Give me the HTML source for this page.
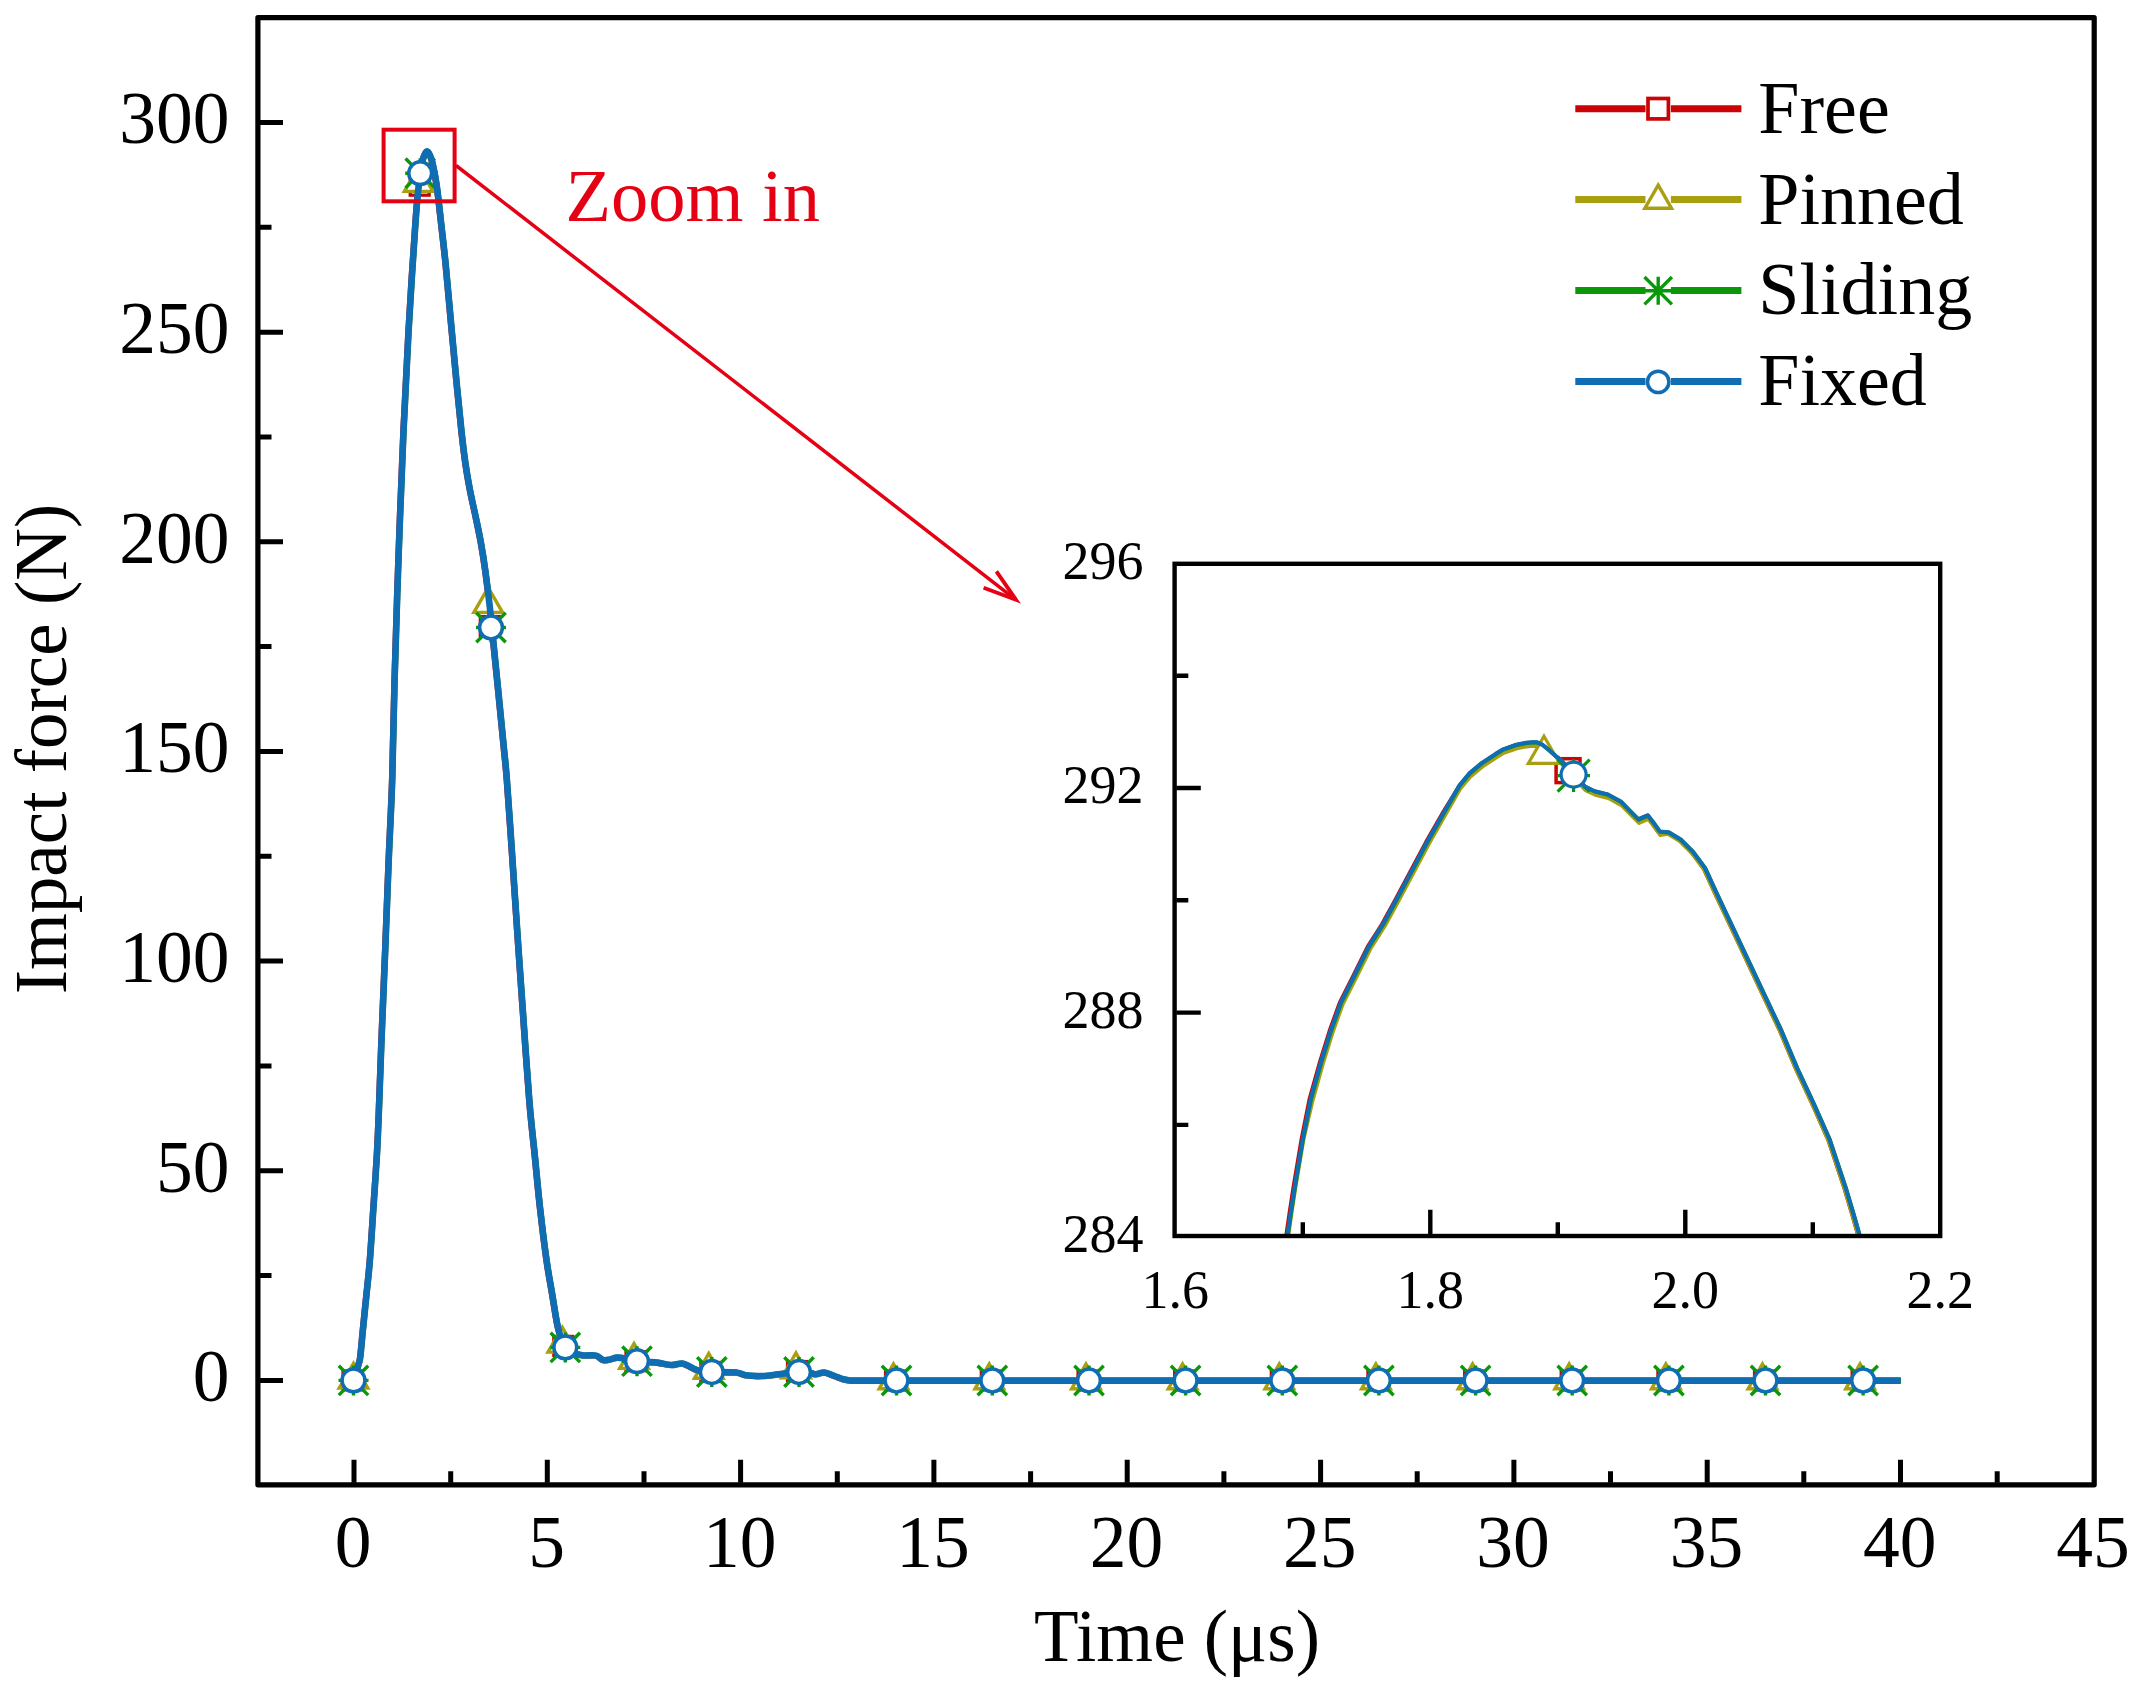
<!DOCTYPE html>
<html lang="en"><head><meta charset="utf-8"><title>Impact force vs time</title>
<style>html,body{margin:0;padding:0;background:#fff}body{width:2139px;height:1691px;overflow:hidden}svg{display:block}text{font-family:"Liberation Serif", serif;fill:#000}</style></head><body>
<svg width="2139" height="1691" viewBox="0 0 2139 1691">
<rect x="0" y="0" width="2139" height="1691" fill="#fff"/>
<path d="M353.0 1380.6C353.5 1379.2 355.1 1374.6 355.9 1371.9C356.7 1369.2 357.4 1366.8 358.0 1364.4C358.6 1362.1 358.9 1363.3 359.6 1357.8C360.3 1352.3 361.2 1341.6 362.2 1331.2C363.2 1320.8 364.6 1307.5 365.8 1295.7C367.0 1283.9 368.1 1275.0 369.3 1260.2C370.5 1245.4 371.7 1224.7 372.9 1206.9C374.1 1189.2 375.4 1171.5 376.4 1153.7C377.4 1136.0 378.0 1118.5 378.7 1100.4C379.4 1082.4 379.7 1071.1 380.7 1045.4C381.7 1019.7 383.6 976.4 384.8 946.0C386.0 915.6 386.9 890.8 388.0 863.2C389.1 835.6 390.6 810.9 391.6 780.4C392.6 749.9 392.9 717.5 394.0 680.1C395.1 642.7 396.5 597.3 398.0 555.9C399.5 514.5 401.2 469.0 402.9 431.7C404.5 394.4 406.4 359.9 407.9 332.3C409.4 304.7 410.6 286.7 412.0 266.0C413.4 245.3 414.8 222.7 416.0 208.1C417.2 193.5 418.0 186.2 419.0 178.4C420.0 170.6 420.9 165.5 421.8 161.4C422.7 157.3 423.8 155.5 424.6 153.9C425.4 152.3 425.9 151.7 426.6 151.8C427.3 151.9 427.9 152.7 428.8 154.6C429.7 156.5 430.7 158.3 431.9 163.4C433.1 168.5 434.6 175.7 436.0 185.2C437.4 194.7 438.7 207.0 440.2 220.5C441.7 234.0 443.5 248.8 445.2 266.0C446.9 283.2 448.7 304.7 450.5 324.0C452.3 343.3 454.2 364.1 455.9 382.0C457.6 399.9 459.4 417.9 460.9 431.7C462.4 445.5 463.6 455.1 465.0 464.8C466.4 474.4 467.5 480.6 469.2 489.6C470.9 498.6 473.5 509.6 475.4 518.6C477.3 527.6 478.8 534.5 480.4 543.5C482.0 552.5 483.5 562.0 484.9 572.4C486.3 582.8 487.6 593.2 489.0 605.6C490.4 618.0 491.7 631.8 493.2 647.0C494.7 662.2 496.6 680.1 498.2 696.7C499.8 713.3 501.8 732.4 503.1 746.4C504.4 760.4 504.9 762.1 506.3 780.4C507.7 798.7 509.9 830.9 511.6 856.1C513.3 881.3 515.0 906.6 516.7 931.8C518.4 957.0 520.0 979.4 522.0 1007.5C524.0 1035.6 526.7 1076.0 528.7 1100.4C530.7 1124.8 532.2 1136.0 534.0 1153.7C535.8 1171.5 537.3 1189.2 539.3 1206.9C541.3 1224.7 543.8 1245.4 545.9 1260.2C548.0 1275.0 550.1 1285.3 551.8 1295.7C553.5 1306.1 555.0 1315.8 556.2 1322.3C557.4 1328.8 558.2 1331.2 559.2 1334.7C560.2 1338.2 561.5 1341.2 562.4 1343.4C563.3 1345.6 563.2 1346.4 564.7 1348.0C566.2 1349.6 568.4 1351.6 571.4 1352.9C574.4 1354.2 578.8 1355.3 582.8 1355.8C586.8 1356.3 592.0 1355.2 595.3 1356.0C598.6 1356.8 600.0 1359.8 602.4 1360.4C604.8 1361.0 607.0 1360.2 609.4 1359.8C611.8 1359.4 613.7 1358.1 616.5 1358.0C619.3 1357.9 623.1 1358.6 626.4 1359.2C629.7 1359.8 631.4 1361.0 636.4 1361.6C641.4 1362.2 650.6 1362.4 656.3 1363.0C661.9 1363.6 666.0 1365.2 670.3 1365.4C674.6 1365.6 678.1 1363.3 682.0 1364.0C685.9 1364.7 690.5 1368.1 693.7 1369.4C696.9 1370.7 698.5 1371.1 701.4 1371.6C704.3 1372.1 705.5 1372.2 711.2 1372.4C716.9 1372.6 730.0 1372.4 735.7 1372.9C741.3 1373.5 740.8 1375.1 745.1 1375.7C749.4 1376.3 756.0 1376.6 761.5 1376.4C767.0 1376.2 771.6 1375.4 777.8 1374.7C783.9 1374.0 793.5 1372.7 798.4 1372.4C803.3 1372.1 804.6 1372.6 807.4 1373.0C810.2 1373.4 812.5 1374.7 815.2 1374.7C817.9 1374.7 820.3 1372.6 823.4 1372.9C826.5 1373.2 830.7 1375.3 833.9 1376.4C837.1 1377.5 839.7 1378.8 842.4 1379.6C845.1 1380.4 849.0 1380.8 850.3 1381.0L1900.0 1381.0" fill="none" stroke="#cc0306" stroke-width="5.4" stroke-linejoin="round"/>
<path d="M354.1 1380.8C354.6 1379.3 356.2 1374.8 357.0 1372.1C357.8 1369.4 358.5 1366.9 359.1 1364.6C359.7 1362.2 360.0 1363.5 360.7 1358.0C361.4 1352.5 362.3 1341.8 363.3 1331.4C364.3 1321.0 365.7 1307.7 366.9 1295.9C368.1 1284.1 369.2 1275.2 370.4 1260.4C371.6 1245.6 372.8 1224.8 374.0 1207.1C375.2 1189.3 376.5 1171.6 377.5 1153.9C378.5 1136.1 379.1 1118.6 379.8 1100.6C380.5 1082.5 380.8 1071.3 381.8 1045.6C382.8 1019.9 384.7 976.6 385.9 946.2C387.1 915.8 388.0 891.0 389.1 863.4C390.2 835.8 391.7 811.1 392.7 780.6C393.7 750.1 394.0 717.7 395.1 680.3C396.2 642.9 397.6 597.5 399.1 556.1C400.6 514.7 402.4 469.2 404.0 431.9C405.6 394.6 407.5 360.1 409.0 332.5C410.5 304.9 411.8 286.9 413.1 266.2C414.5 245.5 415.9 222.9 417.1 208.3C418.3 193.7 419.1 186.4 420.1 178.6C421.1 170.8 422.0 165.7 422.9 161.6C423.8 157.5 424.9 155.7 425.7 154.1C426.5 152.5 427.0 151.9 427.7 152.0C428.4 152.1 429.0 152.9 429.9 154.8C430.8 156.7 431.8 158.5 433.0 163.6C434.2 168.7 435.7 175.9 437.1 185.4C438.5 194.9 439.8 207.2 441.3 220.7C442.8 234.2 444.6 249.0 446.3 266.2C448.0 283.5 449.8 304.9 451.6 324.2C453.4 343.5 455.3 364.3 457.0 382.2C458.7 400.2 460.5 418.1 462.0 431.9C463.5 445.7 464.7 455.4 466.1 465.0C467.5 474.6 468.6 480.8 470.3 489.8C472.0 498.8 474.6 509.8 476.5 518.8C478.4 527.8 479.9 534.7 481.5 543.7C483.1 552.7 484.6 562.2 486.0 572.6C487.4 583.0 488.7 593.4 490.1 605.8C491.5 618.2 492.8 632.0 494.3 647.2C495.8 662.4 497.7 680.3 499.3 696.9C500.9 713.5 502.9 732.6 504.2 746.6C505.5 760.6 506.0 762.3 507.4 780.6C508.8 798.9 511.0 831.1 512.7 856.3C514.4 881.5 516.1 906.8 517.8 932.0C519.5 957.2 521.1 979.6 523.1 1007.7C525.1 1035.8 527.8 1076.2 529.8 1100.6C531.8 1125.0 533.3 1136.1 535.1 1153.9C536.9 1171.6 538.4 1189.3 540.4 1207.1C542.4 1224.8 544.9 1245.6 547.0 1260.4C549.1 1275.2 551.2 1285.5 552.9 1295.9C554.6 1306.2 556.1 1316.0 557.3 1322.5C558.5 1329.0 559.3 1331.4 560.3 1334.9C561.3 1338.4 562.6 1341.4 563.5 1343.6C564.4 1345.8 564.3 1346.6 565.8 1348.2C567.3 1349.8 569.5 1351.8 572.5 1353.1C575.5 1354.4 579.9 1355.5 583.9 1356.0C587.9 1356.5 593.1 1355.4 596.4 1356.2C599.7 1357.0 601.1 1360.0 603.5 1360.6C605.9 1361.2 608.1 1360.4 610.5 1360.0C612.9 1359.6 614.8 1358.3 617.6 1358.2C620.4 1358.1 624.2 1358.8 627.5 1359.4C630.8 1360.0 632.5 1361.2 637.5 1361.8C642.5 1362.4 651.8 1362.6 657.4 1363.2C663.0 1363.8 667.1 1365.4 671.4 1365.6C675.7 1365.8 679.2 1363.5 683.1 1364.2C687.0 1364.9 691.6 1368.3 694.8 1369.6C698.0 1370.9 699.6 1371.3 702.5 1371.8C705.4 1372.3 706.6 1372.4 712.3 1372.6C718.0 1372.8 731.1 1372.5 736.8 1373.1C742.4 1373.6 741.9 1375.3 746.2 1375.9C750.5 1376.5 757.2 1376.8 762.6 1376.6C768.0 1376.4 772.8 1375.6 778.9 1374.9C785.0 1374.2 794.6 1372.9 799.5 1372.6C804.4 1372.3 805.7 1372.8 808.5 1373.2C811.3 1373.6 813.6 1374.9 816.3 1374.9C819.0 1374.9 821.4 1372.8 824.5 1373.1C827.6 1373.4 831.8 1375.5 835.0 1376.6C838.2 1377.7 840.8 1379.0 843.5 1379.8C846.2 1380.6 850.1 1381.0 851.4 1381.2L1901.1 1381.2" fill="none" stroke="#a9a011" stroke-width="5.4" stroke-linejoin="round"/>
<path d="M353.9 1379.9C354.4 1378.5 356.0 1373.9 356.8 1371.2C357.6 1368.5 358.3 1366.0 358.9 1363.7C359.5 1361.4 359.8 1362.6 360.5 1357.1C361.2 1351.6 362.1 1340.8 363.1 1330.5C364.1 1320.2 365.5 1306.8 366.7 1295.0C367.9 1283.2 369.0 1274.3 370.2 1259.5C371.4 1244.7 372.6 1224.0 373.8 1206.2C375.0 1188.5 376.3 1170.8 377.3 1153.0C378.3 1135.2 378.9 1117.8 379.6 1099.7C380.3 1081.7 380.6 1070.4 381.6 1044.7C382.6 1019.0 384.5 975.7 385.7 945.3C386.9 914.9 387.8 890.1 388.9 862.5C390.0 834.9 391.5 810.2 392.5 779.7C393.5 749.2 393.8 716.8 394.9 679.4C396.0 642.0 397.4 596.6 398.9 555.2C400.4 513.8 402.2 468.3 403.8 431.0C405.4 393.7 407.3 359.2 408.8 331.6C410.3 304.0 411.6 286.0 412.9 265.3C414.3 244.6 415.7 222.0 416.9 207.4C418.1 192.8 418.9 185.5 419.9 177.7C420.9 169.9 421.8 164.8 422.7 160.7C423.6 156.6 424.7 154.8 425.5 153.2C426.3 151.6 426.8 151.0 427.5 151.1C428.2 151.2 428.8 152.0 429.7 153.9C430.6 155.8 431.6 157.6 432.8 162.7C434.0 167.8 435.5 175.0 436.9 184.5C438.3 194.0 439.6 206.3 441.1 219.8C442.6 233.3 444.4 248.1 446.1 265.3C447.8 282.6 449.6 304.0 451.4 323.3C453.2 342.6 455.1 363.4 456.8 381.3C458.5 399.2 460.3 417.2 461.8 431.0C463.3 444.8 464.5 454.4 465.9 464.1C467.3 473.7 468.4 479.9 470.1 488.9C471.8 497.9 474.4 508.9 476.3 517.9C478.2 526.9 479.7 533.8 481.3 542.8C482.9 551.8 484.4 561.4 485.8 571.7C487.2 582.1 488.5 592.5 489.9 604.9C491.3 617.3 492.6 631.1 494.1 646.3C495.6 661.5 497.5 679.4 499.1 696.0C500.8 712.6 502.6 731.8 504.0 745.7C505.4 759.7 505.8 761.4 507.2 779.7C508.6 798.0 510.8 830.2 512.5 855.4C514.2 880.6 515.9 905.9 517.6 931.1C519.3 956.3 520.9 978.7 522.9 1006.8C524.9 1034.9 527.6 1075.3 529.6 1099.7C531.6 1124.1 533.1 1135.2 534.9 1153.0C536.7 1170.8 538.2 1188.5 540.2 1206.2C542.2 1224.0 544.7 1244.7 546.8 1259.5C548.9 1274.3 551.0 1284.7 552.7 1295.0C554.4 1305.3 555.9 1315.1 557.1 1321.6C558.3 1328.1 559.1 1330.5 560.1 1334.0C561.1 1337.5 562.4 1340.5 563.3 1342.7C564.2 1344.9 564.1 1345.7 565.6 1347.3C567.1 1348.9 569.3 1350.9 572.3 1352.2C575.3 1353.5 579.7 1354.6 583.7 1355.1C587.7 1355.6 592.9 1354.5 596.2 1355.3C599.5 1356.1 600.9 1359.1 603.3 1359.7C605.6 1360.3 607.9 1359.5 610.3 1359.1C612.6 1358.7 614.6 1357.4 617.4 1357.3C620.2 1357.2 624.0 1357.9 627.3 1358.5C630.6 1359.1 632.3 1360.3 637.3 1360.9C642.3 1361.5 651.5 1361.7 657.2 1362.3C662.8 1362.9 666.9 1364.5 671.2 1364.7C675.5 1364.9 679.0 1362.6 682.9 1363.3C686.8 1364.0 691.4 1367.4 694.6 1368.7C697.8 1370.0 699.4 1370.4 702.3 1370.9C705.2 1371.4 706.4 1371.5 712.1 1371.7C717.8 1371.9 730.9 1371.7 736.6 1372.2C742.2 1372.8 741.7 1374.4 746.0 1375.0C750.3 1375.6 757.0 1375.9 762.4 1375.7C767.8 1375.5 772.5 1374.7 778.7 1374.0C784.8 1373.3 794.4 1372.0 799.3 1371.7C804.2 1371.4 805.5 1371.9 808.3 1372.3C811.1 1372.7 813.4 1374.0 816.1 1374.0C818.8 1374.0 821.2 1371.9 824.3 1372.2C827.4 1372.5 831.6 1374.6 834.8 1375.7C838.0 1376.8 840.6 1378.1 843.3 1378.9C846.0 1379.7 849.9 1380.1 851.2 1380.3L1900.9 1380.3" fill="none" stroke="#0a980a" stroke-width="5.4" stroke-linejoin="round"/>
<rect x="343.0" y="1370.9" width="19.0" height="19.0" fill="#fff" stroke="#cc0306" stroke-width="3.2"/>
<rect x="410.2" y="176.2" width="19.0" height="19.0" fill="#fff" stroke="#cc0306" stroke-width="3.2"/>
<rect x="480.3" y="616.5" width="19.0" height="19.0" fill="#fff" stroke="#cc0306" stroke-width="3.2"/>
<rect x="553.8" y="1336.4" width="19.0" height="19.0" fill="#fff" stroke="#cc0306" stroke-width="3.2"/>
<rect x="626.0" y="1351.7" width="19.0" height="19.0" fill="#fff" stroke="#cc0306" stroke-width="3.2"/>
<rect x="700.8" y="1362.5" width="19.0" height="19.0" fill="#fff" stroke="#cc0306" stroke-width="3.2"/>
<rect x="787.5" y="1361.5" width="19.0" height="19.0" fill="#fff" stroke="#cc0306" stroke-width="3.2"/>
<rect x="885.5" y="1371.0" width="19.0" height="19.0" fill="#fff" stroke="#cc0306" stroke-width="3.2"/>
<rect x="981.3" y="1371.0" width="19.0" height="19.0" fill="#fff" stroke="#cc0306" stroke-width="3.2"/>
<rect x="1078.0" y="1371.0" width="19.0" height="19.0" fill="#fff" stroke="#cc0306" stroke-width="3.2"/>
<rect x="1174.6" y="1371.0" width="19.0" height="19.0" fill="#fff" stroke="#cc0306" stroke-width="3.2"/>
<rect x="1271.3" y="1371.0" width="19.0" height="19.0" fill="#fff" stroke="#cc0306" stroke-width="3.2"/>
<rect x="1367.9" y="1371.0" width="19.0" height="19.0" fill="#fff" stroke="#cc0306" stroke-width="3.2"/>
<rect x="1464.6" y="1371.0" width="19.0" height="19.0" fill="#fff" stroke="#cc0306" stroke-width="3.2"/>
<rect x="1561.2" y="1371.0" width="19.0" height="19.0" fill="#fff" stroke="#cc0306" stroke-width="3.2"/>
<rect x="1657.9" y="1371.0" width="19.0" height="19.0" fill="#fff" stroke="#cc0306" stroke-width="3.2"/>
<rect x="1754.5" y="1371.0" width="19.0" height="19.0" fill="#fff" stroke="#cc0306" stroke-width="3.2"/>
<rect x="1852.1" y="1371.0" width="19.0" height="19.0" fill="#fff" stroke="#cc0306" stroke-width="3.2"/>
<path d="M353.5 1363.4 L367.8 1388.1 L339.2 1388.1 Z" fill="#fff" stroke="#a9a011" stroke-width="3.4" stroke-linejoin="miter"/>
<path d="M418.7 166.7 L433.0 191.4 L404.4 191.4 Z" fill="#fff" stroke="#a9a011" stroke-width="3.4" stroke-linejoin="miter"/>
<path d="M488.2 587.7 L502.5 612.4 L473.9 612.4 Z" fill="#fff" stroke="#a9a011" stroke-width="3.4" stroke-linejoin="miter"/>
<path d="M562.3 1327.4 L576.6 1352.1 L548.0 1352.1 Z" fill="#fff" stroke="#a9a011" stroke-width="3.4" stroke-linejoin="miter"/>
<path d="M634.0 1343.7 L648.3 1368.4 L619.7 1368.4 Z" fill="#fff" stroke="#a9a011" stroke-width="3.4" stroke-linejoin="miter"/>
<path d="M708.8 1353.5 L723.1 1378.2 L694.5 1378.2 Z" fill="#fff" stroke="#a9a011" stroke-width="3.4" stroke-linejoin="miter"/>
<path d="M796.0 1353.0 L810.3 1377.7 L781.7 1377.7 Z" fill="#fff" stroke="#a9a011" stroke-width="3.4" stroke-linejoin="miter"/>
<path d="M893.5 1364.0 L907.8 1388.7 L879.2 1388.7 Z" fill="#fff" stroke="#a9a011" stroke-width="3.4" stroke-linejoin="miter"/>
<path d="M989.3 1364.0 L1003.6 1388.7 L975.0 1388.7 Z" fill="#fff" stroke="#a9a011" stroke-width="3.4" stroke-linejoin="miter"/>
<path d="M1086.0 1364.0 L1100.3 1388.7 L1071.7 1388.7 Z" fill="#fff" stroke="#a9a011" stroke-width="3.4" stroke-linejoin="miter"/>
<path d="M1182.6 1364.0 L1196.9 1388.7 L1168.3 1388.7 Z" fill="#fff" stroke="#a9a011" stroke-width="3.4" stroke-linejoin="miter"/>
<path d="M1279.3 1364.0 L1293.6 1388.7 L1265.0 1388.7 Z" fill="#fff" stroke="#a9a011" stroke-width="3.4" stroke-linejoin="miter"/>
<path d="M1375.9 1364.0 L1390.2 1388.7 L1361.6 1388.7 Z" fill="#fff" stroke="#a9a011" stroke-width="3.4" stroke-linejoin="miter"/>
<path d="M1472.6 1364.0 L1486.9 1388.7 L1458.3 1388.7 Z" fill="#fff" stroke="#a9a011" stroke-width="3.4" stroke-linejoin="miter"/>
<path d="M1569.2 1364.0 L1583.5 1388.7 L1554.9 1388.7 Z" fill="#fff" stroke="#a9a011" stroke-width="3.4" stroke-linejoin="miter"/>
<path d="M1665.9 1364.0 L1680.2 1388.7 L1651.6 1388.7 Z" fill="#fff" stroke="#a9a011" stroke-width="3.4" stroke-linejoin="miter"/>
<path d="M1762.5 1364.0 L1776.8 1388.7 L1748.2 1388.7 Z" fill="#fff" stroke="#a9a011" stroke-width="3.4" stroke-linejoin="miter"/>
<path d="M1860.1 1364.0 L1874.4 1388.7 L1845.8 1388.7 Z" fill="#fff" stroke="#a9a011" stroke-width="3.4" stroke-linejoin="miter"/>
<path d="M353.5 1365.4 V1395.4 M338.5 1380.4 H368.5 M338.8 1365.7 L368.2 1395.1 M338.8 1395.1 L368.2 1365.7" fill="none" stroke="#0a980a" stroke-width="3.4"/>
<path d="M420.2 158.2 V188.2 M405.2 173.2 H435.2 M405.5 158.5 L434.9 187.9 M405.5 187.9 L434.9 158.5" fill="none" stroke="#0a980a" stroke-width="3.4"/>
<path d="M491.0 612.5 V642.5 M476.0 627.5 H506.0 M476.3 612.8 L505.7 642.2 M476.3 642.2 L505.7 612.8" fill="none" stroke="#0a980a" stroke-width="3.4"/>
<path d="M565.3 1332.4 V1362.4 M550.3 1347.4 H580.3 M550.6 1332.7 L580.0 1362.1 M550.6 1362.1 L580.0 1332.7" fill="none" stroke="#0a980a" stroke-width="3.4"/>
<path d="M637.0 1346.2 V1376.2 M622.0 1361.2 H652.0 M622.3 1346.5 L651.7 1375.9 M622.3 1375.9 L651.7 1346.5" fill="none" stroke="#0a980a" stroke-width="3.4"/>
<path d="M711.8 1357.0 V1387.0 M696.8 1372.0 H726.8 M697.1 1357.3 L726.5 1386.7 M697.1 1386.7 L726.5 1357.3" fill="none" stroke="#0a980a" stroke-width="3.4"/>
<path d="M799.0 1357.0 V1387.0 M784.0 1372.0 H814.0 M784.3 1357.3 L813.7 1386.7 M784.3 1386.7 L813.7 1357.3" fill="none" stroke="#0a980a" stroke-width="3.4"/>
<path d="M896.5 1365.5 V1395.5 M881.5 1380.5 H911.5 M881.8 1365.8 L911.2 1395.2 M881.8 1395.2 L911.2 1365.8" fill="none" stroke="#0a980a" stroke-width="3.4"/>
<path d="M992.3 1365.5 V1395.5 M977.3 1380.5 H1007.3 M977.6 1365.8 L1007.0 1395.2 M977.6 1395.2 L1007.0 1365.8" fill="none" stroke="#0a980a" stroke-width="3.4"/>
<path d="M1089.0 1365.5 V1395.5 M1074.0 1380.5 H1104.0 M1074.3 1365.8 L1103.7 1395.2 M1074.3 1395.2 L1103.7 1365.8" fill="none" stroke="#0a980a" stroke-width="3.4"/>
<path d="M1185.6 1365.5 V1395.5 M1170.6 1380.5 H1200.6 M1170.9 1365.8 L1200.3 1395.2 M1170.9 1395.2 L1200.3 1365.8" fill="none" stroke="#0a980a" stroke-width="3.4"/>
<path d="M1282.3 1365.5 V1395.5 M1267.3 1380.5 H1297.3 M1267.6 1365.8 L1297.0 1395.2 M1267.6 1395.2 L1297.0 1365.8" fill="none" stroke="#0a980a" stroke-width="3.4"/>
<path d="M1378.9 1365.5 V1395.5 M1363.9 1380.5 H1393.9 M1364.2 1365.8 L1393.6 1395.2 M1364.2 1395.2 L1393.6 1365.8" fill="none" stroke="#0a980a" stroke-width="3.4"/>
<path d="M1475.6 1365.5 V1395.5 M1460.6 1380.5 H1490.6 M1460.9 1365.8 L1490.3 1395.2 M1460.9 1395.2 L1490.3 1365.8" fill="none" stroke="#0a980a" stroke-width="3.4"/>
<path d="M1572.2 1365.5 V1395.5 M1557.2 1380.5 H1587.2 M1557.5 1365.8 L1586.9 1395.2 M1557.5 1395.2 L1586.9 1365.8" fill="none" stroke="#0a980a" stroke-width="3.4"/>
<path d="M1668.9 1365.5 V1395.5 M1653.9 1380.5 H1683.9 M1654.2 1365.8 L1683.6 1395.2 M1654.2 1395.2 L1683.6 1365.8" fill="none" stroke="#0a980a" stroke-width="3.4"/>
<path d="M1765.5 1365.5 V1395.5 M1750.5 1380.5 H1780.5 M1750.8 1365.8 L1780.2 1395.2 M1750.8 1395.2 L1780.2 1365.8" fill="none" stroke="#0a980a" stroke-width="3.4"/>
<path d="M1863.1 1365.5 V1395.5 M1848.1 1380.5 H1878.1 M1848.4 1365.8 L1877.8 1395.2 M1848.4 1395.2 L1877.8 1365.8" fill="none" stroke="#0a980a" stroke-width="3.4"/>
<path d="M353.6 1380.2C354.1 1378.8 355.7 1374.2 356.5 1371.5C357.3 1368.8 358.0 1366.3 358.6 1364.0C359.2 1361.7 359.5 1362.9 360.2 1357.4C360.9 1351.9 361.8 1341.2 362.8 1330.8C363.8 1320.4 365.2 1307.1 366.4 1295.3C367.6 1283.5 368.7 1274.6 369.9 1259.8C371.1 1245.0 372.3 1224.2 373.5 1206.5C374.7 1188.8 376.0 1171.0 377.0 1153.3C378.0 1135.5 378.6 1118.0 379.3 1100.0C380.0 1082.0 380.3 1070.7 381.3 1045.0C382.3 1019.3 384.2 976.0 385.4 945.6C386.6 915.2 387.5 890.4 388.6 862.8C389.7 835.2 391.2 810.5 392.2 780.0C393.2 749.5 393.5 717.1 394.6 679.7C395.7 642.3 397.1 596.9 398.6 555.5C400.1 514.1 401.9 468.6 403.5 431.3C405.1 394.0 407.0 359.5 408.5 331.9C410.0 304.3 411.2 286.3 412.6 265.6C414.0 244.9 415.4 222.3 416.6 207.7C417.8 193.1 418.6 185.8 419.6 178.0C420.6 170.2 421.5 165.1 422.4 161.0C423.3 156.9 424.4 155.1 425.2 153.5C426.0 151.9 426.5 151.3 427.2 151.4C427.9 151.5 428.5 152.3 429.4 154.2C430.3 156.1 431.3 157.9 432.5 163.0C433.7 168.1 435.2 175.3 436.6 184.8C438.0 194.3 439.3 206.6 440.8 220.1C442.3 233.6 444.1 248.4 445.8 265.6C447.5 282.9 449.3 304.3 451.1 323.6C452.9 342.9 454.8 363.7 456.5 381.6C458.2 399.6 460.0 417.5 461.5 431.3C463.0 445.1 464.2 454.8 465.6 464.4C467.0 474.0 468.1 480.2 469.8 489.2C471.5 498.2 474.1 509.2 476.0 518.2C477.9 527.2 479.4 534.1 481.0 543.1C482.6 552.1 484.1 561.6 485.5 572.0C486.9 582.4 488.2 592.8 489.6 605.2C491.0 617.6 492.3 631.4 493.8 646.6C495.3 661.8 497.2 679.7 498.8 696.3C500.4 712.9 502.4 732.0 503.7 746.0C505.0 760.0 505.5 761.7 506.9 780.0C508.3 798.3 510.5 830.5 512.2 855.7C513.9 880.9 515.6 906.2 517.3 931.4C519.0 956.6 520.6 979.0 522.6 1007.1C524.6 1035.2 527.3 1075.6 529.3 1100.0C531.3 1124.4 532.8 1135.5 534.6 1153.3C536.4 1171.0 537.9 1188.8 539.9 1206.5C541.9 1224.2 544.4 1245.0 546.5 1259.8C548.6 1274.6 550.7 1284.9 552.4 1295.3C554.1 1305.7 555.6 1315.4 556.8 1321.9C558.0 1328.4 558.8 1330.8 559.8 1334.3C560.8 1337.8 562.1 1340.8 563.0 1343.0C563.9 1345.2 563.8 1346.0 565.3 1347.6C566.8 1349.2 569.0 1351.2 572.0 1352.5C575.0 1353.8 579.4 1354.9 583.4 1355.4C587.4 1355.9 592.6 1354.8 595.9 1355.6C599.2 1356.4 600.6 1359.4 603.0 1360.0C605.4 1360.6 607.6 1359.8 610.0 1359.4C612.4 1359.0 614.3 1357.7 617.1 1357.6C619.9 1357.5 623.7 1358.2 627.0 1358.8C630.3 1359.4 632.0 1360.6 637.0 1361.2C642.0 1361.8 651.2 1362.0 656.9 1362.6C662.5 1363.2 666.6 1364.8 670.9 1365.0C675.2 1365.2 678.7 1362.9 682.6 1363.6C686.5 1364.3 691.1 1367.7 694.3 1369.0C697.5 1370.3 699.1 1370.7 702.0 1371.2C704.9 1371.7 706.1 1371.8 711.8 1372.0C717.5 1372.2 730.6 1372.0 736.3 1372.5C741.9 1373.0 741.4 1374.7 745.7 1375.3C750.0 1375.9 756.7 1376.2 762.1 1376.0C767.5 1375.8 772.2 1375.0 778.4 1374.3C784.5 1373.6 794.1 1372.3 799.0 1372.0C803.9 1371.7 805.2 1372.2 808.0 1372.6C810.8 1373.0 813.1 1374.3 815.8 1374.3C818.5 1374.3 820.9 1372.2 824.0 1372.5C827.1 1372.8 831.3 1374.9 834.5 1376.0C837.7 1377.1 840.3 1378.4 843.0 1379.2C845.7 1380.0 849.6 1380.4 850.9 1380.6L1900.6 1380.6" fill="none" stroke="#0f6db4" stroke-width="6.6" stroke-linejoin="round"/>
<circle cx="353.5" cy="1380.4" r="11.4" fill="#fff" stroke="#0f6db4" stroke-width="3.5"/>
<circle cx="420.2" cy="173.2" r="11.4" fill="#fff" stroke="#0f6db4" stroke-width="3.5"/>
<circle cx="491.0" cy="627.5" r="11.4" fill="#fff" stroke="#0f6db4" stroke-width="3.5"/>
<circle cx="565.3" cy="1347.4" r="11.4" fill="#fff" stroke="#0f6db4" stroke-width="3.5"/>
<circle cx="637.0" cy="1361.2" r="11.4" fill="#fff" stroke="#0f6db4" stroke-width="3.5"/>
<circle cx="711.8" cy="1372.0" r="11.4" fill="#fff" stroke="#0f6db4" stroke-width="3.5"/>
<circle cx="799.0" cy="1372.0" r="11.4" fill="#fff" stroke="#0f6db4" stroke-width="3.5"/>
<circle cx="896.5" cy="1380.5" r="11.4" fill="#fff" stroke="#0f6db4" stroke-width="3.5"/>
<circle cx="992.3" cy="1380.5" r="11.4" fill="#fff" stroke="#0f6db4" stroke-width="3.5"/>
<circle cx="1089.0" cy="1380.5" r="11.4" fill="#fff" stroke="#0f6db4" stroke-width="3.5"/>
<circle cx="1185.6" cy="1380.5" r="11.4" fill="#fff" stroke="#0f6db4" stroke-width="3.5"/>
<circle cx="1282.3" cy="1380.5" r="11.4" fill="#fff" stroke="#0f6db4" stroke-width="3.5"/>
<circle cx="1378.9" cy="1380.5" r="11.4" fill="#fff" stroke="#0f6db4" stroke-width="3.5"/>
<circle cx="1475.6" cy="1380.5" r="11.4" fill="#fff" stroke="#0f6db4" stroke-width="3.5"/>
<circle cx="1572.2" cy="1380.5" r="11.4" fill="#fff" stroke="#0f6db4" stroke-width="3.5"/>
<circle cx="1668.9" cy="1380.5" r="11.4" fill="#fff" stroke="#0f6db4" stroke-width="3.5"/>
<circle cx="1765.5" cy="1380.5" r="11.4" fill="#fff" stroke="#0f6db4" stroke-width="3.5"/>
<circle cx="1863.1" cy="1380.5" r="11.4" fill="#fff" stroke="#0f6db4" stroke-width="3.5"/>
<rect x="257.9" y="17.6" width="1836.3" height="1467.2" fill="none" stroke="#000" stroke-width="5.2" stroke-linejoin="round"/>
<path d="M260.0 1380.4 H283.0M260.0 1275.6 H271.5M260.0 1170.8 H283.0M260.0 1065.9 H271.5M260.0 961.1 H283.0M260.0 856.3 H271.5M260.0 751.5 H283.0M260.0 646.6 H271.5M260.0 541.8 H283.0M260.0 437.0 H271.5M260.0 332.2 H283.0M260.0 227.3 H271.5M260.0 122.5 H283.0M354.0 1482.7 V1459.7M450.7 1482.7 V1471.2M547.3 1482.7 V1459.7M644.0 1482.7 V1471.2M740.6 1482.7 V1459.7M837.3 1482.7 V1471.2M933.9 1482.7 V1459.7M1030.6 1482.7 V1471.2M1127.2 1482.7 V1459.7M1223.9 1482.7 V1471.2M1320.6 1482.7 V1459.7M1417.2 1482.7 V1471.2M1513.9 1482.7 V1459.7M1610.5 1482.7 V1471.2M1707.2 1482.7 V1459.7M1803.8 1482.7 V1471.2M1900.5 1482.7 V1459.7M1997.2 1482.7 V1471.2" fill="none" stroke="#000" stroke-width="5.0"/>
<text x="229.6" y="1401.1" font-size="73.5" text-anchor="end">0</text>
<text x="229.6" y="1191.5" font-size="73.5" text-anchor="end">50</text>
<text x="229.6" y="981.8" font-size="73.5" text-anchor="end">100</text>
<text x="229.6" y="772.2" font-size="73.5" text-anchor="end">150</text>
<text x="229.6" y="562.5" font-size="73.5" text-anchor="end">200</text>
<text x="229.6" y="352.9" font-size="73.5" text-anchor="end">250</text>
<text x="229.6" y="143.2" font-size="73.5" text-anchor="end">300</text>
<text x="353.2" y="1567.4" font-size="73.5" text-anchor="middle">0</text>
<text x="546.5" y="1567.4" font-size="73.5" text-anchor="middle">5</text>
<text x="739.8" y="1567.4" font-size="73.5" text-anchor="middle">10</text>
<text x="933.1" y="1567.4" font-size="73.5" text-anchor="middle">15</text>
<text x="1126.5" y="1567.4" font-size="73.5" text-anchor="middle">20</text>
<text x="1319.8" y="1567.4" font-size="73.5" text-anchor="middle">25</text>
<text x="1513.1" y="1567.4" font-size="73.5" text-anchor="middle">30</text>
<text x="1706.4" y="1567.4" font-size="73.5" text-anchor="middle">35</text>
<text x="1899.7" y="1567.4" font-size="73.5" text-anchor="middle">40</text>
<text x="2093.0" y="1567.4" font-size="73.5" text-anchor="middle">45</text>
<text x="1177.0" y="1661.0" font-size="73.0" text-anchor="middle">Time (μs)</text>
<text transform="translate(66.4 749.0) rotate(-90)" font-size="73.0" text-anchor="middle">Impact force (N)</text>
<rect x="383.6" y="129.7" width="71.0" height="71.6" fill="none" stroke="#e60014" stroke-width="4"/>
<path d="M456.0 165.5 L1016.0 599.8" fill="none" stroke="#e60014" stroke-width="3.5"/>
<path d="M983.6 587.8 L1016.0 599.8 L996.4 571.4" fill="none" stroke="#e60014" stroke-width="3.8" stroke-linejoin="miter" stroke-miterlimit="10"/>
<text x="565.5" y="221.3" font-size="74.5" style="fill:#e60014">Zoom in</text>
<path d="M1575.3 108.7 H1645.5 M1670.9 108.7 H1741.4" stroke="#cc0306" stroke-width="7.0" fill="none"/>
<path d="M1575.3 199.6 H1645.5 M1670.9 199.6 H1741.4" stroke="#a9a011" stroke-width="7.0" fill="none"/>
<path d="M1575.3 290.4 H1645.5 M1670.9 290.4 H1741.4" stroke="#0a980a" stroke-width="7.0" fill="none"/>
<path d="M1575.3 381.4 H1645.5 M1670.9 381.4 H1741.4" stroke="#0f6db4" stroke-width="7.0" fill="none"/>
<rect x="1648.0" y="98.5" width="20.4" height="20.4" fill="#fff" stroke="#cc0306" stroke-width="3.7"/>
<path d="M1658.2 185.1 L1671.5 208.2 L1644.9 208.2 Z" fill="#fff" stroke="#a9a011" stroke-width="3.4" stroke-linejoin="miter"/>
<path d="M1658.2 276.7 V304.7 M1644.2 290.7 H1672.2 M1644.5 277.0 L1671.9 304.4 M1644.5 304.4 L1671.9 277.0" fill="none" stroke="#0a980a" stroke-width="3.4"/>
<circle cx="1658.2" cy="381.9" r="10.7" fill="#fff" stroke="#0f6db4" stroke-width="3.5"/>
<text x="1758.3" y="132.6" font-size="74.0">Free</text>
<text x="1758.3" y="223.5" font-size="74.0">Pinned</text>
<text x="1758.3" y="314.3" font-size="74.0">Sliding</text>
<text x="1758.3" y="405.3" font-size="74.0">Fixed</text>
<clipPath id="ic"><rect x="1174.6" y="563.8" width="765.6" height="672.2"/></clipPath>
<g clip-path="url(#ic)">
<path d="M1286.2 1236.1L1289.4 1214.0L1293.4 1187.9L1301.5 1139.6L1309.5 1099.4L1319.6 1063.2L1329.6 1031.0L1339.7 1002.9L1353.8 974.8L1367.8 946.6L1381.9 924.5L1394.0 902.4L1410.1 872.2L1426.1 842.1L1442.2 813.9L1459.5 785.8L1469.6 773.7L1481.6 763.7L1495.7 754.4L1503.1 749.9L1516.2 745.3L1526.0 743.4L1532.0 742.8L1537.0 742.9L1542.4 745.3L1548.9 750.5L1555.4 756.4L1560.7 760.3L1573.6 775.2L1584.9 787.2L1594.7 791.8L1607.8 795.0L1619.7 802.2L1627.2 809.9L1637.2 819.9L1646.5 815.9L1651.3 822.0L1658.5 832.0L1667.4 832.8L1679.5 840.1L1691.5 852.1L1703.6 868.2L1715.6 894.3L1731.7 928.5L1747.8 962.7L1763.9 996.9L1780.0 1031.0L1796.1 1069.2L1812.1 1103.4L1828.2 1139.6L1844.3 1187.9L1852.4 1215.2L1858.4 1236.1" fill="none" stroke="#cc0306" stroke-width="4.0" stroke-linejoin="round"/>
<rect x="1556.1" y="758.7" width="23.9" height="23.9" fill="#fff" stroke="#cc0306" stroke-width="3.5"/>
<path d="M1288.2 1235.5L1291.4 1213.4L1295.4 1187.3L1303.5 1139.0L1312.5 1100.6L1322.6 1064.4L1332.6 1032.2L1342.7 1004.1L1356.8 976.0L1370.8 947.8L1384.9 925.7L1397.0 903.6L1413.1 873.4L1429.1 843.3L1444.0 816.9L1460.1 788.8L1470.2 776.7L1482.2 766.7L1496.3 757.4L1503.7 752.9L1516.8 748.3L1526.6 746.4L1532.6 745.8L1537.6 745.9L1543.0 748.3L1549.5 753.5L1556.0 759.4L1561.3 763.3L1574.2 778.2L1585.5 790.2L1595.3 794.8L1608.4 798.0L1621.5 805.2L1629.0 812.9L1639.0 822.9L1648.3 818.9L1653.1 825.0L1660.3 835.0L1667.8 833.8L1679.9 841.1L1691.9 853.1L1704.0 869.2L1716.0 895.3L1732.1 929.5L1748.2 963.7L1764.3 997.9L1780.4 1032.0L1796.5 1070.2L1812.5 1104.4L1828.6 1140.6L1844.7 1188.9L1852.8 1216.2L1858.8 1237.1" fill="none" stroke="#a9a011" stroke-width="4.0" stroke-linejoin="round"/>
<path d="M1544.0 736.3 L1559.6 763.3 L1528.4 763.3 Z" fill="#fff" stroke="#a9a011" stroke-width="3.2" stroke-linejoin="miter"/>
<path d="M1287.7 1235.8L1290.9 1213.7L1294.9 1187.6L1303.0 1139.3L1311.0 1099.1L1321.1 1062.9L1331.1 1030.7L1341.2 1002.6L1355.3 974.5L1369.3 946.3L1383.4 924.2L1395.5 902.1L1411.6 871.9L1427.6 841.8L1443.7 813.6L1459.8 785.5L1469.9 773.4L1481.9 763.4L1496.0 754.1L1503.4 749.6L1516.5 745.0L1526.3 743.1L1532.3 742.5L1537.3 742.6L1542.7 745.0L1549.2 750.2L1555.7 756.1L1561.0 760.0L1573.9 774.9L1585.2 786.9L1595.0 791.5L1608.1 794.7L1621.2 801.9L1628.7 809.6L1638.7 819.6L1648.0 815.6L1652.8 821.7L1660.0 831.7L1668.9 832.5L1681.0 839.8L1693.0 851.8L1705.1 867.9L1717.1 894.0L1733.2 928.2L1749.3 962.4L1765.4 996.6L1781.5 1030.7L1797.6 1068.9L1813.6 1103.1L1829.7 1139.3L1845.8 1187.6L1853.9 1214.9L1859.9 1235.8" fill="none" stroke="#0a980a" stroke-width="4.0" stroke-linejoin="round"/>
<path d="M1573.6 759.2 V792.0 M1557.2 775.6 H1590.0 M1557.6 759.6 L1589.6 791.6 M1557.6 791.6 L1589.6 759.6" fill="none" stroke="#0a980a" stroke-width="3.2"/>
<path d="M1287.4 1235.5L1290.6 1213.4L1294.6 1187.3L1302.7 1139.0L1310.7 1098.8L1320.8 1062.6L1330.8 1030.4L1340.9 1002.3L1355.0 974.2L1369.0 946.0L1383.1 923.9L1395.2 901.8L1411.3 871.6L1427.3 841.5L1443.4 813.3L1459.5 785.2L1469.6 773.1L1481.6 763.1L1495.7 753.8L1503.1 749.3L1516.2 744.7L1526.0 742.8L1532.0 742.2L1537.0 742.3L1542.4 744.7L1548.9 749.9L1555.4 755.8L1560.7 759.7L1573.6 774.6L1584.9 786.6L1594.7 791.2L1607.8 794.4L1620.9 801.6L1628.4 809.3L1638.4 819.3L1647.7 815.3L1652.5 821.4L1659.7 831.4L1668.6 832.2L1680.7 839.5L1692.7 851.5L1704.8 867.6L1716.8 893.7L1732.9 927.9L1749.0 962.1L1765.1 996.3L1781.2 1030.4L1797.3 1068.6L1813.3 1102.8L1829.4 1139.0L1845.5 1187.3L1853.6 1214.6L1859.6 1235.5" fill="none" stroke="#0f6db4" stroke-width="4.0" stroke-linejoin="round"/>
<circle cx="1573.6" cy="774.6" r="12.5" fill="#fff" stroke="#0f6db4" stroke-width="3.2"/>
</g>
<rect x="1174.6" y="563.8" width="765.6" height="672.2" fill="none" stroke="#000" stroke-width="4.4"/>
<path d="M1176.3 1124.9 H1188.3M1176.3 1012.6 H1200.8M1176.3 900.3 H1188.3M1176.3 788.0 H1200.8M1176.3 675.7 H1188.3M1302.8 1234.3 V1222.3M1430.3 1234.3 V1209.8M1557.8 1234.3 V1222.3M1685.3 1234.3 V1209.8M1812.8 1234.3 V1222.3" fill="none" stroke="#000" stroke-width="4.4"/>
<text x="1143.5" y="1252.4" font-size="54" text-anchor="end">284</text>
<text x="1143.5" y="1027.8" font-size="54" text-anchor="end">288</text>
<text x="1143.5" y="803.2" font-size="54" text-anchor="end">292</text>
<text x="1143.5" y="578.6" font-size="54" text-anchor="end">296</text>
<text x="1175.3" y="1308.3" font-size="54" text-anchor="middle">1.6</text>
<text x="1430.3" y="1308.3" font-size="54" text-anchor="middle">1.8</text>
<text x="1685.3" y="1308.3" font-size="54" text-anchor="middle">2.0</text>
<text x="1940.3" y="1308.3" font-size="54" text-anchor="middle">2.2</text>
</svg></body></html>
